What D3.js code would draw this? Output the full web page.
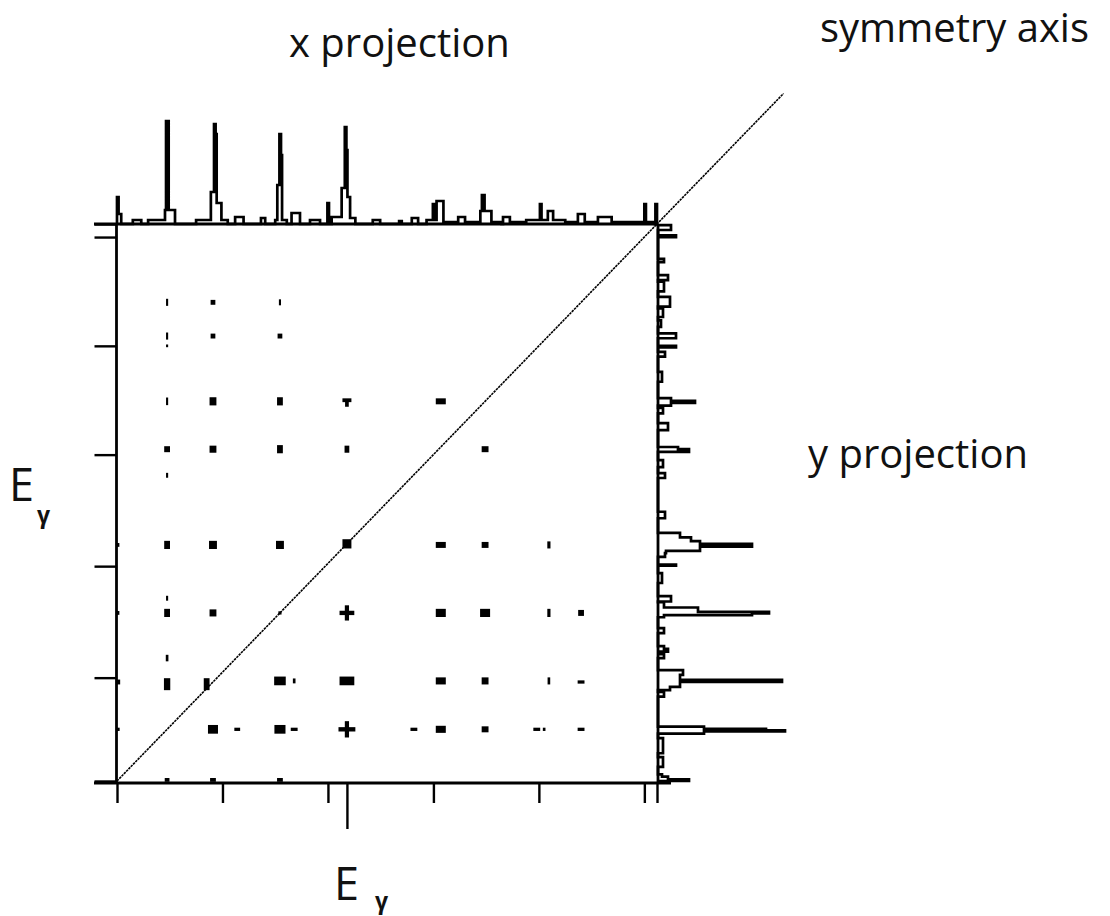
<!DOCTYPE html>
<html>
<head>
<meta charset="utf-8">
<script src="https://cdn.jsdelivr.net/npm/d3@7/dist/d3.min.js"></script>
<style>
  html, body { margin: 0; padding: 0; background: #fff; }
  svg { display: block; }
  text { font-family: "Open Sans", "DejaVu Sans", sans-serif; fill: #111; }
</style>
</head>
<body>
<svg id="chart" width="1110" height="916"></svg>
<script>
// ---- Gamma-gamma coincidence matrix (channels 0..1024 on both axes) ----
const CHANNELS = 1024;

// Axis tick positions (channels)
const xTicks = [0, 200, 400, 600, 800, 1000, 1024];
const yTicks = [0, 190, 395, 600, 800, 1000, 1024];
const gateTick = [436];              // highlighted gate energy on the E axis

// x projection as runs of equal counts: channels [from, to)
const xRunFrom  = [0, 3, 30, 59, 91, 93, 98, 150, 178, 184, 187, 189, 198, 224, 273, 300, 304, 308, 311, 313, 331, 366, 399, 407, 426, 432, 435, 437, 442, 485, 535, 559, 587, 599, 602, 606, 619, 647, 660, 689, 692, 697, 710, 732, 745, 776, 802, 805, 817, 827, 850, 874, 887, 912, 938, 1000, 1003, 1021];
const xRunTo    = [3, 8, 46, 91, 93, 98, 110, 178, 184, 187, 189, 198, 210, 240, 281, 304, 308, 311, 313, 322, 347, 385, 402, 426, 432, 435, 437, 442, 452, 499, 540, 571, 599, 602, 606, 619, 647, 660, 689, 692, 697, 710, 729, 745, 776, 802, 805, 817, 827, 850, 874, 887, 912, 938, 1000, 1003, 1020, 1024];
const xRunCount = [270, 100, 40, 40, 140, 1030, 140, 40, 320, 1000, 900, 210, 40, 70, 60, 40, 390, 900, 690, 40, 110, 40, 210, 70, 360, 970, 740, 270, 60, 40, 30, 60, 40, 200, 40, 230, 20, 70, 20, 130, 290, 130, 20, 70, 20, 40, 200, 40, 130, 40, 20, 100, 20, 70, 20, 200, 20, 200];

// y projection, same run encoding
const yRunFrom  = [0, 3, 8, 26, 51, 87, 91, 93, 96, 155, 167, 173, 182, 186, 195, 226, 233, 238, 243, 272, 301, 305, 308, 311, 319, 330, 364, 396, 412, 419, 423, 431, 436, 441, 448, 483, 557, 577, 605, 610, 645, 676, 690, 695, 699, 734, 780, 797, 814, 835, 853, 872, 900, 921, 954, 1000, 1013];
const yRunTo    = [3, 8, 12, 44, 79, 91, 93, 96, 100, 164, 173, 182, 186, 195, 204, 233, 238, 243, 248, 281, 305, 308, 311, 319, 329, 340, 382, 398, 419, 423, 431, 436, 441, 448, 456, 495, 566, 590, 610, 614, 658, 686, 695, 699, 704, 752, 789, 800, 823, 847, 869, 890, 918, 930, 960, 1003, 1022];
const yRunCount = [310, 100, 40, 50, 50, 460, 1270, 1080, 460, 60, 120, 220, 1240, 220, 250, 60, 20, 100, 60, 60, 60, 940, 1110, 400, 60, 130, 40, 180, 70, 80, 420, 940, 420, 330, 220, 70, 70, 50, 310, 200, 100, 50, 130, 370, 130, 40, 70, 180, 180, 30, 50, 120, 60, 100, 60, 180, 130];

// Coincidence peaks: centre (Ex, Ey) and extent (dEx, dEy), all in channels
const peakEx  = [95, 182, 309, 95, 95, 182, 309, 95, 182, 309, 436, 436, 614, 95, 182, 309, 436, 698, 95, 2, 95, 182, 309, 436, 614, 698, 819, 95, 2, 95, 182, 309, 436, 436, 614, 698, 819, 880, 95, 2, 95, 170, 309, 336, 436, 614, 698, 819, 880, 2, 182, 228, 309, 336, 436, 436, 563, 614, 698, 796, 810, 880, 95, 182, 309];
const peakEy  = [880, 880, 880, 818, 800, 818, 818, 698, 698, 698, 700, 694, 698, 610, 610, 610, 610, 610, 562, 434, 434, 434, 434, 436, 434, 434, 434, 336, 309, 309, 309, 309, 309, 309, 309, 309, 309, 309, 226, 182, 178, 178, 184, 184, 184, 184, 184, 184, 182, 95, 95, 95, 95, 95, 95, 95, 95, 95, 95, 95, 95, 95, 2, 2, 2];
const peakDEx = [4, 9, 4, 4, 4, 9, 9, 4, 13, 11, 17, 7, 19, 11, 13, 11, 9, 13, 4, 5, 11, 15, 15, 17, 19, 13, 6, 4, 5, 11, 13, 6, 28, 8, 19, 19, 6, 11, 5, 8, 12, 11, 22, 5, 28, 19, 13, 5, 13, 6, 19, 11, 21, 13, 32, 8, 13, 19, 13, 13, 5, 13, 9, 11, 11];
const peakDEy = [13, 9, 11, 13, 5, 9, 9, 14, 15, 15, 7, 12, 11, 11, 13, 15, 13, 11, 9, 7, 15, 15, 15, 17, 11, 11, 13, 9, 7, 15, 13, 6, 8, 28, 15, 15, 15, 11, 12, 9, 22, 22, 16, 9, 16, 13, 13, 13, 6, 6, 16, 6, 16, 6, 8, 30, 6, 13, 11, 6, 6, 6, 7, 7, 7];

// Symmetry axis runs Ex = Ey, drawn past the matrix corner
const diagonal = [[0, 0], [1264, 1264]];

// ---- scales ----
const svg = d3.select("#chart");
const x = d3.scaleLinear().domain([0, CHANNELS]).range([117, 657]);
const y = d3.scaleLinear().domain([0, CHANNELS]).range([781, 224]);
const xProjY = d3.scaleLinear().domain([0, 1000]).range([y(CHANNELS), y(CHANNELS) - 100]);
const yProjX = d3.scaleLinear().domain([0, 1000]).range([x(CHANNELS) + 1, x(CHANNELS) + 101]);

// one count per channel, filled from the runs
function expandRuns(from, to, count) {
  const spec = new Array(CHANNELS).fill(0);
  from.forEach((f, i) => { for (let c = f; c < to[i]; c++) spec[c] = count[i]; });
  return spec;
}
const xSpec = expandRuns(xRunFrom, xRunTo, xRunCount);
const ySpec = expandRuns(yRunFrom, yRunTo, yRunCount);

// ---- frame and axes ----
const frame = svg.append("g").attr("stroke", "#000").attr("fill", "none");
frame.append("line").attr("x1", x(0) - 23).attr("x2", x(CHANNELS) + 1).attr("y1", y(CHANNELS)).attr("y2", y(CHANNELS)).attr("stroke-width", 2.8);
frame.append("line").attr("x1", x(0) - 23).attr("x2", x(CHANNELS) + 14).attr("y1", y(0) + 2).attr("y2", y(0) + 2).attr("stroke-width", 2.8);
frame.append("line").attr("x1", x(0) - 0.5).attr("x2", x(0) - 0.5).attr("y1", y(CHANNELS)).attr("y2", y(0) + 2).attr("stroke-width", 2.8);
frame.append("line").attr("x1", x(CHANNELS) + 1).attr("x2", x(CHANNELS) + 1).attr("y1", y(CHANNELS)).attr("y2", y(0) + 2).attr("stroke-width", 2.8);

const bottomAxis = d3.axisBottom(x).tickValues(xTicks).tickSize(20).tickSizeOuter(0).tickFormat("");
const gAxB = svg.append("g").attr("transform", `translate(0,${y(0) + 2})`).call(bottomAxis);
const gateAxis = d3.axisBottom(x).tickValues(gateTick).tickSize(46).tickSizeOuter(0).tickFormat("");
const gAxG = svg.append("g").attr("transform", `translate(0,${y(0) + 2})`).call(gateAxis);
const leftAxis = d3.axisLeft(y).tickValues(yTicks).tickSize(22).tickSizeOuter(0).tickFormat("");
const gAxL = svg.append("g").attr("transform", `translate(${x(0) - 0.5},0)`).call(leftAxis);
[gAxB, gAxG, gAxL].forEach(g => {
  g.select(".domain").remove();
  g.selectAll(".tick line").attr("stroke", "#000").attr("stroke-width", 2.4);
});

// ---- projections (step outlines) ----
const xPts = [[0, 0]].concat(xSpec.map((c, i) => [i, c]), [[CHANNELS, 0]]);
svg.append("path")
  .attr("d", d3.line().x(d => x(d[0])).y(d => xProjY(d[1])).curve(d3.curveStepAfter)(xPts))
  .attr("fill", "none").attr("stroke", "#000").attr("stroke-width", 2.7).attr("stroke-linejoin", "miter");

const yPts = [[0, 0]].concat(ySpec.map((c, i) => [i, c]), [[CHANNELS, 0]]);
svg.append("path")
  .attr("d", d3.line().x(d => yProjX(d[1])).y(d => y(d[0])).curve(d3.curveStepBefore)(yPts))
  .attr("fill", "none").attr("stroke", "#000").attr("stroke-width", 2.7).attr("stroke-linejoin", "miter");

// ---- symmetry axis ----
svg.append("path")
  .attr("d", d3.line().x(d => x(d[0])).y(d => y(d[1]))(diagonal))
  .attr("stroke", "#000").attr("stroke-width", 1.6).attr("stroke-dasharray", "2.5,0.8").attr("fill", "none");

// ---- coincidence peaks ----
svg.append("g").selectAll("rect")
  .data(peakEx.map((e, i) => ({ ex: e, ey: peakEy[i], dx: peakDEx[i], dy: peakDEy[i] })))
  .join("rect")
  .attr("x", d => x(d.ex - d.dx / 2))
  .attr("y", d => y(d.ey + d.dy / 2))
  .attr("width", d => x(d.dx) - x(0))
  .attr("height", d => y(0) - y(d.dy))
  .attr("fill", "#000");

// ---- labels ----
svg.append("text").attr("x", 289).attr("y", 57).attr("font-size", 40).text("x projection");
svg.append("text").attr("x", 820).attr("y", 42).attr("font-size", 40).text("symmetry axis");
svg.append("text").attr("x", 808).attr("y", 468).attr("font-size", 40).text("y projection");

const eLeft = svg.append("text").attr("x", 9).attr("y", 501).attr("font-size", 45);
eLeft.append("tspan").text("E");
eLeft.append("tspan").attr("x", 37).attr("y", 523).attr("font-size", 23).attr("font-weight", "bold").text("γ");
const eBottom = svg.append("text").attr("x", 334).attr("y", 900).attr("font-size", 45);
eBottom.append("tspan").text("E");
eBottom.append("tspan").attr("x", 375).attr("y", 909).attr("font-size", 23).attr("font-weight", "bold").text("γ");
</script>
</body>
</html>
